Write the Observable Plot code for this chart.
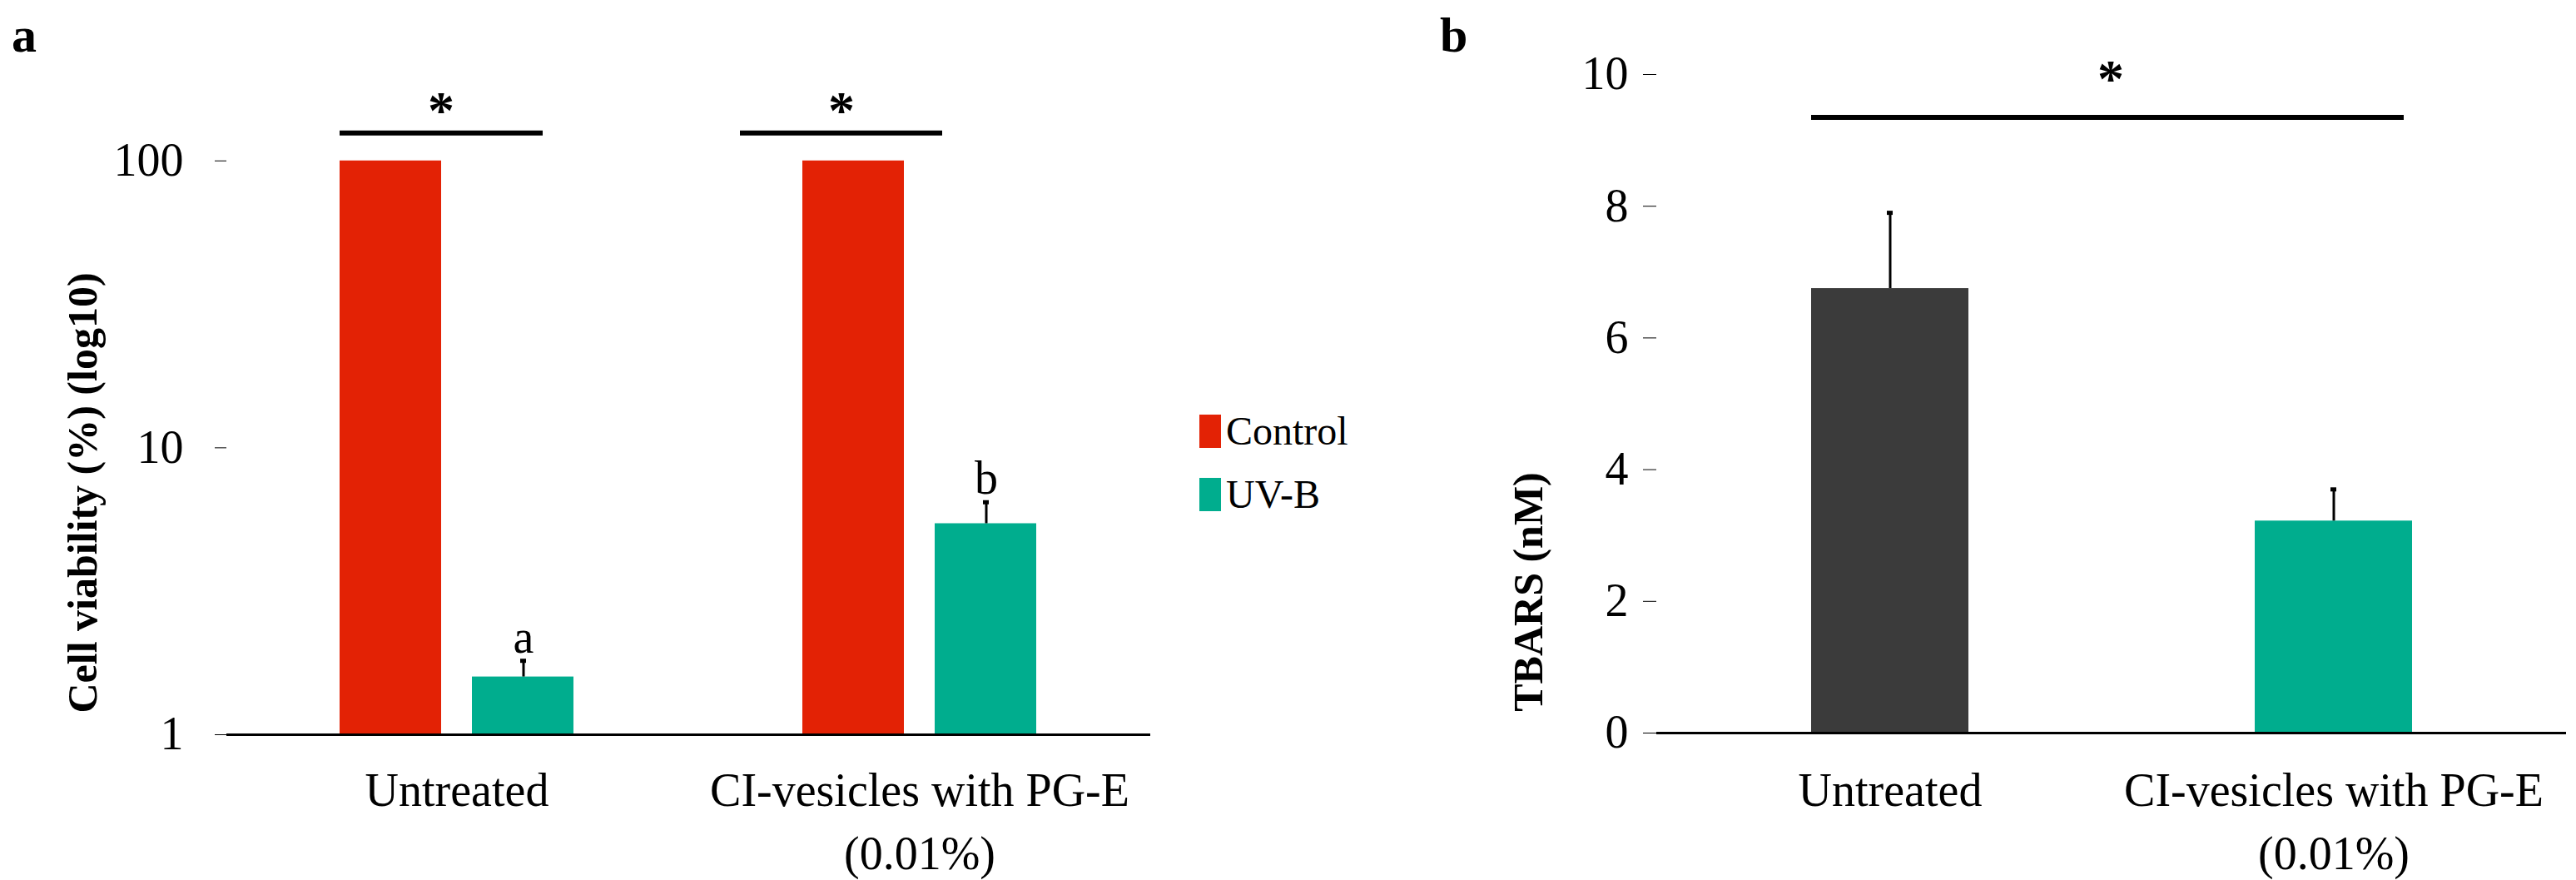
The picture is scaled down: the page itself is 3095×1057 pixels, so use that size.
<!DOCTYPE html>
<html><head><meta charset="utf-8">
<script src="https://cdn.jsdelivr.net/npm/d3@7"></script>
<script src="https://cdn.jsdelivr.net/npm/@observablehq/plot@0.6"></script>
<style>
body{margin:0;background:#fff;font-family:"Liberation Serif","Times New Roman",serif;}
#wrap{position:relative;width:3095px;height:1057px;overflow:hidden;}
.abs{position:absolute;}
.ytitle{position:absolute;font-family:"Liberation Serif",serif;font-weight:bold;font-size:50px;white-space:nowrap;transform:translate(-50%,-50%) rotate(-90deg);}
.letter{position:absolute;font-family:"Liberation Serif",serif;font-weight:bold;font-size:60px;}
.leg{position:absolute;font-family:"Liberation Serif",serif;font-size:48px;display:flex;align-items:center;}
.leg span.sw{display:inline-block;width:26px;height:40px;margin-right:6px;}
</style></head>
<body><div id="wrap"></div>
<script>
const groups = ["Untreated", "CI-vesicles with PG-E\n(0.01%)"];
const seriesNames = ["Control", "UV-B"];
const controlValues = [100, 100];
const uvbValues = [1.59, 5.44];
const uvbErr = [1.81, 6.46];
const uvbLetters = ["a", "b"];
const sigA = [125, 125];
const yTicksA = [1, 10, 100];

const tbarsValues = [6.75, 3.22];
const tbarsErr = [7.9, 3.7];
const sigB = 9.35;
const yTicksB = [0, 2, 4, 6, 8, 10];

const colors = {Control: "#e32205", "UV-B": "#00ad8e", dark: "#3b3b3b"};
const font = '"Liberation Serif","Times New Roman",serif';
const wrap = document.getElementById("wrap");

const ctrl = groups.map((g, i) => ({group: g, value: controlValues[i]}));
const uvb = groups.map((g, i) => ({group: g, value: uvbValues[i], err: uvbErr[i], lab: uvbLetters[i]}));
const sig = groups.map((g, i) => ({group: g, y: sigA[i]}));

const bw = 282, barW = 123, off = 80;
const plotA = Plot.plot({
  width: 1450, height: 1057, marginLeft: 272, marginRight: 68, marginTop: 89, marginBottom: 175,
  style: {fontFamily: font, fontSize: "56px", color: "#000", background: "transparent"},
  x: {domain: groups, paddingInner: 0.494, paddingOuter: 0.245, label: null},
  y: {type: "log", domain: [1, 200], label: null},
  marks: [
    Plot.axisX({tickSize: 0, tickPadding: 32, lineHeight: 1.35, fontSize: 56, fontFamily: font}),
    Plot.axisY({ticks: yTicksA, tickFormat: d3.format("d"), tickSize: 14, tickPadding: 38, fontSize: 56, fontFamily: font, stroke: "#000", strokeOpacity: 1, label: null}),
    Plot.barY(ctrl, {x: "group", y1: 1, y2: "value", fill: colors.Control, insetRight: bw - barW}),
    Plot.barY(uvb, {x: "group", y1: 1, y2: "value", fill: colors["UV-B"], insetLeft: bw - barW}),
    Plot.ruleX(uvb, {x: "group", y1: "value", y2: "err", dx: off, stroke: "#000", strokeWidth: 3}),
    Plot.tickY(uvb, {x: "group", y: "err", dx: off, stroke: "#000", strokeWidth: 5, insetLeft: bw/2 - 4, insetRight: bw/2 - 4}),
    Plot.text(uvb, {x: "group", y: "err", text: "lab", dx: off, dy: -10, lineAnchor: "bottom", fontSize: 56, fontFamily: font}),
    Plot.tickY(sig.slice(0, 1), {x: "group", y: "y", stroke: "#000", strokeWidth: 6, insetRight: 37}),
    Plot.tickY(sig.slice(1), {x: "group", y: "y", stroke: "#000", strokeWidth: 6, insetLeft: -75, insetRight: 113}),
    Plot.text(sig.slice(0, 1), {x: "group", y: "y", text: () => "*", dx: -19, dy: -6, lineAnchor: "bottom", fontSize: 64, fontWeight: "bold", fontFamily: font}),
    Plot.text(sig.slice(1), {x: "group", y: "y", text: () => "*", dx: -94, dy: -6, lineAnchor: "bottom", fontSize: 64, fontWeight: "bold", fontFamily: font}),
    Plot.ruleY([1], {stroke: "#000", strokeWidth: 3}),
    Plot.ruleX([1], {frameAnchor: "left", stroke: "#000", strokeWidth: 2})
  ]
});
plotA.classList.add("abs"); plotA.style.left = "0px"; plotA.style.top = "0px";
wrap.appendChild(plotA);

const tb = groups.map((g, i) => ({group: g, value: tbarsValues[i], err: tbarsErr[i], fill: i === 0 ? colors.dark : colors["UV-B"]}));
const sigBData = [{group: groups[0], y: sigB}];
const plotB = Plot.plot({
  width: 1395, height: 1057, marginLeft: 290, marginRight: 12, marginTop: 89, marginBottom: 177,
  style: {fontFamily: font, fontSize: "56px", color: "#000", background: "transparent"},
  x: {domain: groups, paddingInner: 0.646, paddingOuter: 0.347, label: null},
  y: {domain: [0, 10], label: null},
  marks: [
    Plot.axisX({tickSize: 0, tickPadding: 34, lineHeight: 1.35, fontSize: 56, fontFamily: font}),
    Plot.axisY({ticks: yTicksB, tickSize: 16, tickPadding: 18, fontSize: 56, fontFamily: font, stroke: "#000", strokeOpacity: 1, label: null}),
    Plot.barY(tb, {x: "group", y: "value", fill: "fill"}),
    Plot.ruleX(tb, {x: "group", y1: "value", y2: "err", stroke: "#000", strokeWidth: 3}),
    Plot.tickY(tb, {x: "group", y: "err", stroke: "#000", strokeWidth: 5, insetLeft: 91, insetRight: 91}),
    Plot.tickY(sigBData, {x: "group", y: "y", stroke: "#000", strokeWidth: 6, insetRight: -523}),
    Plot.ruleY([0], {stroke: "#000", strokeWidth: 3}),
    Plot.ruleX([0], {frameAnchor: "left", stroke: "#000", strokeWidth: 2})
  ]
});
plotB.classList.add("abs"); plotB.style.left = "1700px"; plotB.style.top = "0px";
wrap.appendChild(plotB);

function addDiv(cls, html, left, top) {
  const d = document.createElement("div"); d.className = cls; d.innerHTML = html;
  d.style.left = left + "px"; d.style.top = top + "px"; wrap.appendChild(d); return d;
}
addDiv("ytitle", "Cell viability (%) (log10)", 99, 592);
addDiv("ytitle", "TBARS (nM)", 1836, 711);
addDiv("letter", "a", 14, 8);
addDiv("letter", "b", 1730, 8);
addDiv("letter", "*", 2520, 58).style.fontSize = "64px";
seriesNames.forEach((s, i) => addDiv("leg", `<span class="sw" style="background:${colors[s]}"></span>${s}`, 1441, 490 + i * 76));
</script></body></html>
